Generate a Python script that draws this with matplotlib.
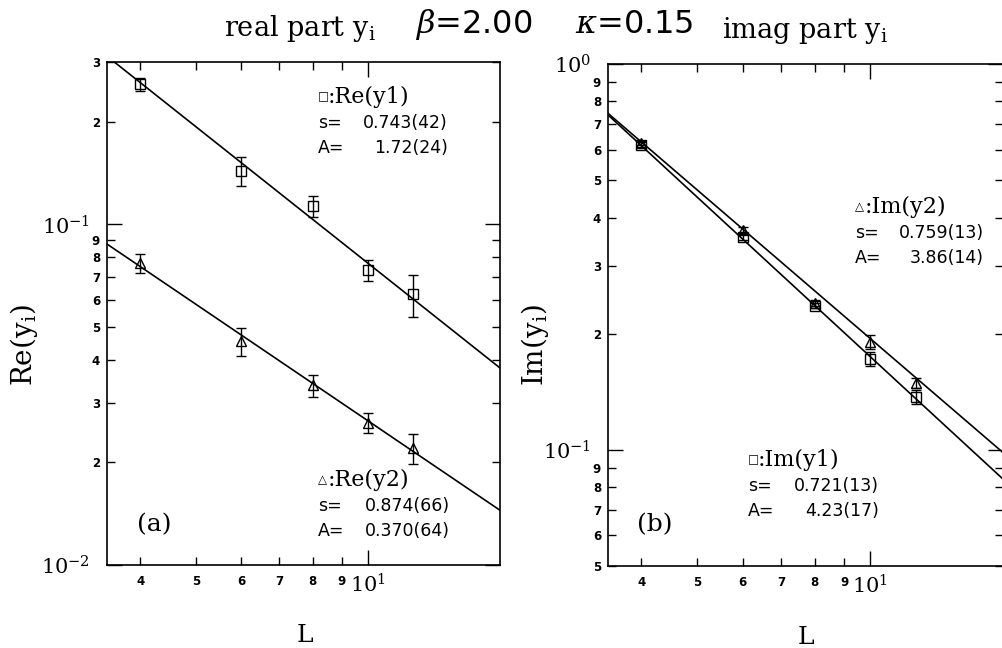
import numpy as np
import matplotlib
matplotlib.use("Agg")
from matplotlib import pyplot as plt

plt.rcParams['font.family'] = 'DejaVu Sans'
plt.rcParams['mathtext.fontset'] = 'dejavuserif'

W, H = 1003, 648

# lattice sizes
L = [4, 6, 8, 10, 12]

# real part (panel a)
re_y1 = [0.258, 0.144, 0.113, 0.0735, 0.0623]
re_y1_err = [0.011, 0.014, 0.008, 0.0053, 0.0088]
re_y2 = [0.077, 0.0455, 0.0337, 0.0262, 0.0220]
re_y2_err = [0.0050, 0.0043, 0.0025, 0.0018, 0.0022]

# imag part (panel b)
im_y1 = [0.618, 0.356, 0.2365, 0.172, 0.1374]
im_y1_err = [0.008, 0.006, 0.004, 0.0072, 0.0057]
im_y2 = [0.625, 0.3715, 0.240, 0.1908, 0.1489]
im_y2_err = [0.008, 0.006, 0.004, 0.008, 0.0045]

# fit lines, end points
fit_L = [3.5, 17.0]
re_y1_fit = [0.312, 0.0379]
re_y2_fit = [0.0876, 0.01448]
im_y1_fit = [0.738, 0.0840]
im_y2_fit = [0.745, 0.0984]

# fit parameters shown as text
re_y1_txt = ["0.743(42)", "1.72(24)"]
re_y2_txt = ["0.874(66)", "0.370(64)"]
im_y1_txt = ["0.721(13)", "4.23(17)"]
im_y2_txt = ["0.759(13)", "3.86(14)"]

x_minor = [4, 5, 6, 7, 8, 9]
re_minor = [0.02, 0.03, 0.04, 0.05, 0.06, 0.07, 0.08, 0.09, 0.2, 0.3]
re_minor_lab = ['2', '3', '4', '5', '6', '7', '8', '9', '2', '3']
im_minor = [0.05, 0.06, 0.07, 0.08, 0.09, 0.2, 0.3, 0.4, 0.5, 0.6, 0.7, 0.8, 0.9]
im_minor_lab = ['5', '6', '7', '8', '9', '2', '3', '4', '5', '6', '7', '8', '9']

SERIF = 'DejaVu Serif'


def fx(px):
    return px / W


def fy(py):
    return 1 - py / H


fig = plt.figure(figsize=(W / 100, H / 100), dpi=100)
axL = fig.add_axes([fx(107), fy(565), 393 / W, 503 / H])
axR = fig.add_axes([fx(608), fy(566), 395 / W, 502 / H])


def setup(ax, ylim, ymaj, ymaj_lab, ymin, ymin_lab):
    ax.set_xscale('log')
    ax.set_yscale('log')
    ax.set_xlim(3.5, 17)
    ax.set_ylim(*ylim)
    ax.set_xticks([10], ['$10^{1}$'], fontsize=15)
    ax.set_xticks(x_minor, [str(v) for v in x_minor], minor=True,
                  fontsize=8.5, fontweight='bold')
    ax.set_yticks(ymaj, ymaj_lab, fontsize=15)
    ax.set_yticks(ymin, ymin_lab, minor=True, fontsize=8.5, fontweight='bold')
    ax.set_ylim(*ylim)
    ax.tick_params(which='both', direction='in', top=True, right=True, width=1)
    ax.tick_params(which='major', length=11)
    ax.tick_params(which='minor', length=5.5)
    ax.tick_params(axis='y', which='major', pad=12)
    ax.tick_params(axis='y', which='minor', pad=5)
    ax.tick_params(axis='x', which='major', pad=6)
    ax.tick_params(axis='x', which='minor', pad=7)
    for sp in ax.spines.values():
        sp.set_linewidth(1.2)


setup(axL, (0.01, 0.3), [0.01, 0.1], ['$10^{-2}$', '$10^{-1}$'], re_minor, re_minor_lab)
setup(axR, (0.05, 1.0), [0.1, 1.0], ['$10^{-1}$', '$10^{0}$'], im_minor, im_minor_lab)

eb = dict(color='black', ls='none', ms=6.5, mfc='none', mec='black', mew=1.0,
          capsize=3.5, elinewidth=1.0, capthick=1.0)

axL.plot(fit_L, re_y1_fit, color='black', lw=1.2)
axL.plot(fit_L, re_y2_fit, color='black', lw=1.2)
axL.errorbar(L, re_y1, yerr=re_y1_err, marker='s', **eb)
axL.errorbar(L, re_y2, yerr=re_y2_err, marker='^', **eb)

axR.plot(fit_L, im_y1_fit, color='black', lw=1.2)
axR.plot(fit_L, im_y2_fit, color='black', lw=1.2)
axR.errorbar(L, im_y1, yerr=im_y1_err, marker='s', **eb)
axR.errorbar(L, im_y2, yerr=im_y2_err, marker='^', **eb)

# title line
fig.text(fx(300), fy(36), 'real part y$_\\mathrm{i}$', family=SERIF, fontsize=19.5,
         ha='center', va='baseline')
fig.text(fx(415), fy(33), '$\\beta$=2.00', fontsize=23, ha='left', va='baseline')
fig.text(fx(575), fy(33), '$\\kappa$=0.15', fontsize=23, ha='left', va='baseline')
fig.text(fx(722), fy(38), 'imag part y$_\\mathrm{i}$', family=SERIF, fontsize=19.5,
         ha='left', va='baseline')

# axis labels
fig.text(fx(24), fy(345), 'Re(y$_\\mathrm{i}$)', family=SERIF, fontsize=20,
         rotation=90, ha='center', va='center')
fig.text(fx(535), fy(345), 'Im(y$_\\mathrm{i}$)', family=SERIF, fontsize=20,
         rotation=90, ha='center', va='center')
fig.text(fx(305), fy(635), 'L', family=SERIF, fontsize=18, ha='center', va='center')
fig.text(fx(806), fy(637), 'L', family=SERIF, fontsize=18, ha='center', va='center')


def fit_block(x, y, sym, name, vals, right):
    fig.text(fx(x), fy(y), sym, fontsize=8.5, ha='left', va='center')
    fig.text(fx(x + 10), fy(y), name, family=SERIF, fontsize=16, ha='left', va='center')
    fig.text(fx(x), fy(y + 26), 's=', fontsize=12.5, ha='left', va='center')
    fig.text(fx(right), fy(y + 26), vals[0], fontsize=12.5, ha='right', va='center')
    fig.text(fx(x), fy(y + 51), 'A=', fontsize=12.5, ha='left', va='center')
    fig.text(fx(right), fy(y + 51), vals[1], fontsize=12.5, ha='right', va='center')


fit_block(318, 97, '\u25a1', ':Re(y1)', re_y1_txt, 448)
fit_block(318, 480, '\u25b3', ':Re(y2)', re_y2_txt, 450)
fit_block(855, 207, '\u25b3', ':Im(y2)', im_y2_txt, 984)
fit_block(748, 460, '\u25a1', ':Im(y1)', im_y1_txt, 879)

fig.text(fx(137), fy(525), '(a)', family=SERIF, fontsize=18, ha='left', va='center')
fig.text(fx(637), fy(525), '(b)', family=SERIF, fontsize=18, ha='left', va='center')

fig.savefig('out.png', dpi=100)
